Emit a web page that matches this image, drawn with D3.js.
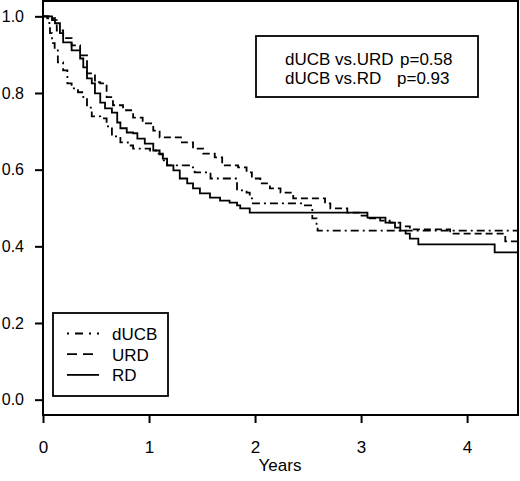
<!DOCTYPE html>
<html>
<head>
<meta charset="utf-8">
<script src="https://cdn.jsdelivr.net/npm/d3@7"></script>
<style>
  body { margin: 0; background: #fff; }
  text { font-family: "Liberation Sans", Arial, sans-serif; fill: #000; }
</style>
</head>
<body>
<svg id="chart" width="520" height="481"></svg>
<script>
// Kaplan-Meier estimates (years, survival)
let ducbTime = [0, 0.04, 0.06, 0.066, 0.085, 0.11, 0.14, 0.19, 0.23, 0.27, 0.33, 0.38, 0.415, 0.46, 0.54, 0.60, 0.65, 0.73, 0.80, 0.85, 1.01, 1.075, 1.13, 1.17, 1.39, 1.43, 1.58, 1.83, 1.92, 1.95, 1.98, 2.45, 2.54, 2.58, 2.59, 4.48];
let ducbSurv = [1.0, 0.995, 0.977, 0.956, 0.930, 0.911, 0.880, 0.859, 0.825, 0.812, 0.802, 0.789, 0.762, 0.739, 0.734, 0.713, 0.687, 0.671, 0.663, 0.655, 0.650, 0.642, 0.624, 0.611, 0.606, 0.593, 0.577, 0.546, 0.540, 0.525, 0.512, 0.507, 0.473, 0.454, 0.441, 0.441];

let urdTime = [0, 0.085, 0.13, 0.19, 0.27, 0.35, 0.415, 0.49, 0.54, 0.60, 0.66, 0.755, 0.85, 0.94, 1.04, 1.10, 1.31, 1.415, 1.51, 1.62, 1.69, 1.84, 1.92, 1.97, 2.05, 2.14, 2.24, 2.36, 2.66, 2.71, 2.87, 2.99, 3.08, 3.18, 3.27, 3.37, 3.46, 3.84, 4.36, 4.48];
let urdSurv = [1.0, 0.99, 0.963, 0.943, 0.924, 0.898, 0.851, 0.828, 0.825, 0.789, 0.768, 0.755, 0.736, 0.721, 0.702, 0.684, 0.671, 0.655, 0.642, 0.632, 0.611, 0.606, 0.593, 0.577, 0.564, 0.551, 0.540, 0.525, 0.512, 0.499, 0.488, 0.480, 0.473, 0.467, 0.462, 0.452, 0.444, 0.433, 0.413, 0.413];

let rdTime = [0, 0.085, 0.113, 0.16, 0.19, 0.27, 0.35, 0.38, 0.415, 0.46, 0.49, 0.54, 0.585, 0.65, 0.70, 0.73, 0.79, 0.85, 0.89, 0.96, 1.04, 1.10, 1.13, 1.17, 1.23, 1.29, 1.36, 1.415, 1.48, 1.575, 1.67, 1.76, 1.83, 1.86, 1.95, 2.83, 3.06, 3.23, 3.32, 3.37, 3.42, 3.46, 3.54, 4.26, 4.48];
let rdSurv = [1.0, 0.995, 0.982, 0.956, 0.932, 0.911, 0.890, 0.867, 0.838, 0.825, 0.799, 0.775, 0.760, 0.749, 0.723, 0.708, 0.697, 0.695, 0.681, 0.668, 0.650, 0.640, 0.629, 0.611, 0.598, 0.577, 0.564, 0.551, 0.538, 0.527, 0.519, 0.514, 0.507, 0.499, 0.488, 0.488, 0.475, 0.462, 0.449, 0.441, 0.433, 0.420, 0.405, 0.384, 0.384];

let groups = ["dUCB", "URD", "RD"];
let dashes = ["8,4,2,4", "7,4", null];
let xTicks = [0, 1, 2, 3, 4];
let yTicks = [0, 0.2, 0.4, 0.6, 0.8, 1.0];
let pLines = [["dUCB vs.URD", "p=0.58"], ["dUCB vs.RD", "p=0.93"]];

let svg = d3.select("#chart");

let x = d3.scaleLinear().domain([0, 4.48]).range([43, 518]);
let y = d3.scaleLinear().domain([-0.04, 1.04]).range([415, 1]);

let series = [
  ducbTime.map((t, i) => [t, ducbSurv[i]]),
  urdTime.map((t, i) => [t, urdSurv[i]]),
  rdTime.map((t, i) => [t, rdSurv[i]])
];

let line = d3.line()
             .x(d => x(d[0]))
             .y(d => y(d[1]))
             .curve(d3.curveStepAfter);

svg.selectAll('path.km')
   .data(series)
   .enter()
   .append('path')
   .attr('class', 'km')
   .attr('d', d => line(d))
   .attr('fill', 'none')
   .attr('stroke', '#000')
   .attr('stroke-width', 1.8)
   .attr('stroke-dasharray', (d, i) => dashes[i]);

// axes
let yAxis = svg.append('g')
   .attr('transform', 'translate(43,0)')
   .call(d3.axisLeft(y).tickValues(yTicks).tickFormat(d3.format('.1f'))
           .tickSize(8).tickPadding(11).tickSizeOuter(0));

let xAxis = svg.append('g')
   .attr('transform', 'translate(0,415)')
   .call(d3.axisBottom(x).tickValues(xTicks).tickFormat(d3.format('d'))
           .tickSize(8).tickPadding(18).tickSizeOuter(0));

[yAxis, xAxis].forEach(a => {
  a.select('.domain').remove();
  a.selectAll('line').attr('stroke-width', 2);
  a.selectAll('text').style('font-family', '"Liberation Sans", Arial, sans-serif');
});
xAxis.selectAll('text').style('font-size', '17px');
yAxis.selectAll('text').style('font-size', '16px');

// frame
svg.append('rect')
   .attr('x', 43).attr('y', 1)
   .attr('width', 475).attr('height', 414)
   .attr('fill', 'none')
   .attr('stroke', '#000')
   .attr('stroke-width', 2);

svg.append('text')
   .attr('x', 280).attr('y', 471)
   .attr('text-anchor', 'middle')
   .style('font-size', '17px')
   .text('Years');

// legend
svg.append('rect')
   .attr('x', 53).attr('y', 313)
   .attr('width', 115).attr('height', 83)
   .attr('fill', '#fff')
   .attr('stroke', '#000')
   .attr('stroke-width', 1.8);

let leg = svg.selectAll('g.leg')
   .data(groups)
   .enter()
   .append('g')
   .attr('class', 'leg')
   .attr('transform', (d, i) => `translate(0,${333.5 + i * 20.7})`);

leg.append('line')
   .attr('x1', 67).attr('x2', 99)
   .attr('stroke', '#000')
   .attr('stroke-width', 1.8)
   .attr('stroke-dasharray', (d, i) => i === 0 ? '2,6,8,6' : (i === 1 ? '10,6' : null));

leg.append('text')
   .attr('x', 112).attr('y', 6.5)
   .style('font-size', '17px')
   .text(d => d);

// p-value box
svg.append('rect')
   .attr('x', 256).attr('y', 36)
   .attr('width', 222).attr('height', 61)
   .attr('fill', '#fff')
   .attr('stroke', '#000')
   .attr('stroke-width', 1.8);

let pt = svg.selectAll('g.pv')
   .data(pLines)
   .enter()
   .append('g')
   .attr('class', 'pv')
   .attr('transform', (d, i) => `translate(0,${65 + i * 19})`);

pt.append('text').attr('x', 285).style('font-size', '17px').text(d => d[0]);
pt.append('text').attr('x', (d, i) => i === 0 ? 400 : 397).style('font-size', '17px').text(d => d[1]);
</script>
</body>
</html>
